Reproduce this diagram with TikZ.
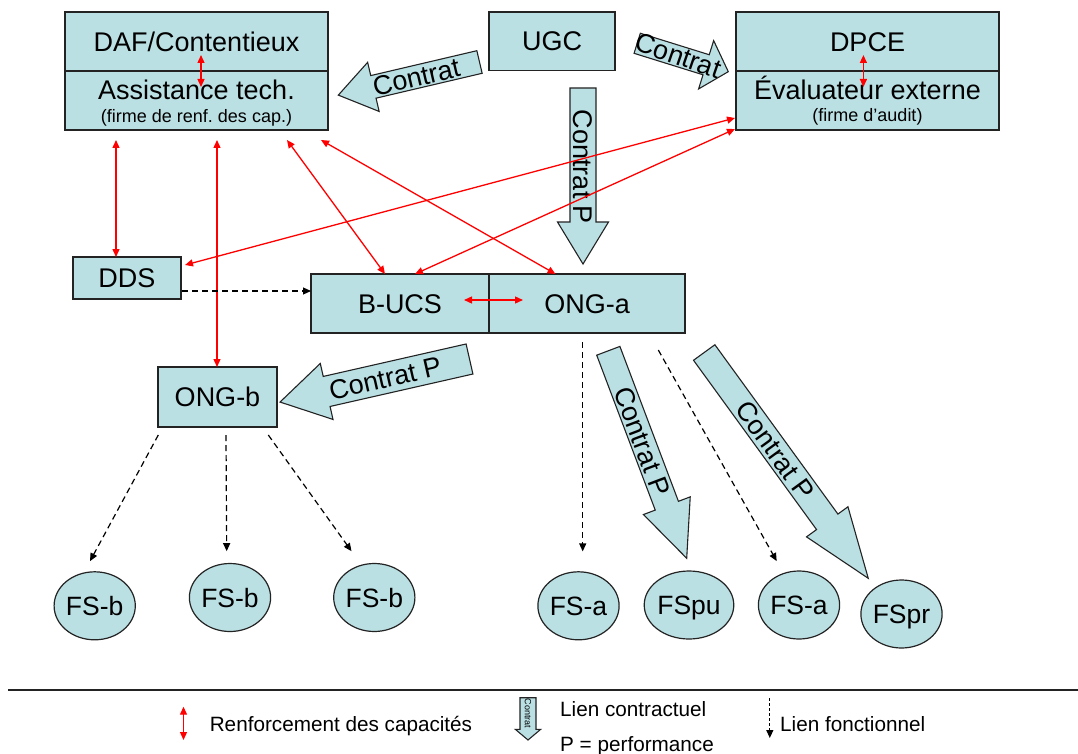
\documentclass[tikz,border=0pt]{standalone}
\usepackage{fontspec}
\setmainfont{Liberation Sans}
\usetikzlibrary{arrows.meta,calc,shapes.geometric}
\definecolor{boxfill}{RGB}{187,224,228}
\definecolor{edge}{RGB}{35,35,35}
\frenchspacing
\newcommand{\fntmain}{\fontsize{27}{32}\selectfont}
\newcommand{\fntsub}{\fontsize{18}{22}\selectfont}
\newcommand{\fntleg}{\fontsize{20.7}{24}\selectfont}
\newcommand{\fntell}{\fontsize{26.5}{30}\selectfont}
\newcommand{\fnttiny}{\fontsize{9}{10}\selectfont}
\tikzset{
  box/.style={draw=edge, fill=boxfill, line width=1.2pt, inner sep=0pt, outer sep=0pt,
    anchor=north west, font=\fntmain, text height=19.3pt, text depth=0pt},
  ell/.style={ellipse, draw=edge, fill=boxfill, line width=1.2pt, inner sep=0pt,
    minimum width=77pt, minimum height=68pt, font=\fntell, text height=19pt, text depth=0pt},
  lbl/.style={inner sep=0pt, font=\fntmain},
  sublbl/.style={inner sep=0pt, font=\fntsub},
  leg/.style={inner sep=0pt, font=\fntleg},
  btxt/.style={inner sep=0pt, font=\fntmain, text height=19.3pt, text depth=0pt},
  barrow/.style={draw=edge, fill=boxfill, line width=1.1pt, line join=miter},
  redarr/.style={draw=red, line width=1.3pt, {Triangle[length=8pt,width=7pt]}-{Triangle[length=8pt,width=7pt]}},
  funarr/.style={draw=black, line width=1.2pt, dash pattern=on 6pt off 4pt, -{Triangle[length=8pt,width=7pt]}},
}
\newcommand{\mkblockarrow}[7]{%
  \begin{scope}[shift={#1},rotate=#2]
    \draw[barrow] (0,-#4) -- ({#3-#6},-#4) -- ({#3-#6},-#5) -- (#3,0) -- ({#3-#6},#5) -- ({#3-#6},#4) -- (0,#4) -- cycle;
    #7
  \end{scope}}
\begin{document}
\begin{tikzpicture}[x=1pt,y=-1pt]
\useasboundingbox (0,0) rectangle (1078,754);
\fill[white] (0,0) rectangle (1078,754);

% top boxes
\node[box, minimum width=263pt, minimum height=59pt] (daf) at (65,12) {DAF/Contentieux};
\node[box, minimum width=263pt, minimum height=59pt] (at) at (65,71) {};
\node[lbl, anchor=base] (att) at (196.5,100) {Assistance tech.};
\node[sublbl, anchor=base] (atsub) at (196.5,123) {(firme de renf. des cap.)};

\node[box, minimum width=126pt, minimum height=58.5pt] (ugc) at (489,12) {UGC};

\node[box, minimum width=263pt, minimum height=59pt] (dpce) at (736,12) {DPCE};
\node[box, minimum width=263pt, minimum height=59pt] (ev) at (736,71) {};
\node[lbl, anchor=base] (evt) at (867.5,100) {Évaluateur externe};
\node[sublbl, anchor=base] (evsub) at (867.5,122) {(firme d’audit)};

% middle boxes
\node[box, minimum width=108pt, minimum height=42pt] (dds) at (73,257) {DDS};
\node[box, minimum width=178pt, minimum height=59pt] (bucs) at (311,274) {B-UCS};
\node[box, minimum width=196pt, minimum height=59pt] (onga) at (489,274) {ONG-a};
\node[box, minimum width=119pt, minimum height=60pt] (ongb) at (158,367) {ONG-b};

% ellipses
\node[ell] (fsb1) at (94.7,605.8) {FS-b};
\node[ell] (fsb2) at (230,597.5) {FS-b};
\node[ell] (fsb3) at (374.3,597.5) {FS-b};
\node[ell] (fsa1) at (578.5,605.8) {FS-a};
\node[ell] (fspu) at (689,605) {FSpu};
\node[ell] (fsa2) at (799,605) {FS-a};
\node[ell] (fspr) at (901.5,614) {FSpr};

% block arrows
\mkblockarrow{(479.5,62)}{193.2}{145}{11.6}{25.2}{36}{\node[btxt,rotate=13.2] (c1) at (65,0) {Contrat};}
\mkblockarrow{(637.2,43.3)}{-17.3}{95.4}{10.5}{25.3}{23.2}{\node[btxt,rotate=-19] (c2) at (43,-1) {Contrat};}
\mkblockarrow{(583,88)}{-90}{176}{13}{25.5}{42}{\node[btxt,rotate=-90] (c3) at (79,0) {Contrat P};}
\mkblockarrow{(469.5,359)}{192.8}{194.3}{15.4}{28.7}{47.8}{\node[btxt,rotate=12.8] (c4) at (86.5,0) {Contrat P};}
\mkblockarrow{(608.3,350.8)}{-69.3}{221.8}{12.4}{25}{56.2}{\node[btxt,rotate=-69.3] (c5) at (97,0) {Contrat P};}
\mkblockarrow{(704.2,352.5)}{-54}{279.1}{13.2}{25.6}{69.8}{\node[btxt,rotate=-54] (c6) at (121,0) {Contrat P};}

% red capacity arrows
\draw[redarr] ($(daf.south west)+(136,-16)$) -- ($(daf.south west)+(136,16)$);
\draw[redarr] ($(dpce.south west)+(127.4,-16)$) -- ($(dpce.south west)+(127.4,16)$);
\draw[redarr] ($(bucs.east)+(-25,-3.5)$) -- ($(onga.west)+(34,-3.5)$);
\draw[redarr] ($(at.south west)+(51,10)$) -- ($(dds.north west)+(43,0)$);
\draw[redarr] ($(at.south west)+(152,10)$) -- ($(ongb.north west)+(59,0)$);
\draw[redarr] ($(at.south west)+(222,10)$) -- ($(bucs.north west)+(74,0)$);
\draw[redarr] ($(at.south west)+(256,10)$) -- ($(onga.north west)+(66.5,0)$);
\draw[redarr] ($(ev.south west)+(-1,-12)$) -- ($(dds.north east)+(4,8)$);
\draw[redarr] ($(ev.south west)+(-1,-1)$) -- ($(bucs.north west)+(104,0)$);

% functional links
\coordinate (d1) at ($(dds.east)+(1,13)$);
\draw[funarr] (d1) -- (d1 -| bucs.west);
\draw[funarr] ($(onga.south west)+(93.7,9)$) -- ($(fsa1.north)+(4.2,-19.8)$);
\draw[funarr] ($(onga.south west)+(169.3,17)$) -- ($(fsa2.north)+(-22.3,-9.3)$);
\draw[funarr] ($(ongb.south west)+(0.3,8)$) -- ($(fsb1.north)+(-4.7,-10)$);
\draw[funarr] ($(ongb.south west)+(68,8)$) -- ($(fsb2.north)+(-3.3,-11.7)$);
\draw[funarr] ($(ongb.south west)+(110.3,8)$) -- ($(fsb3.north)+(-22.8,-11.7)$);

% legend
\coordinate (ll1) at (8,690);
\coordinate (ll2) at (1078,690);
\draw[draw=edge, line width=1.5pt] (ll1) -- (ll2);
\coordinate (lr1) at (183.5,706.7);
\coordinate (lr2) at (183.5,740);
\draw[redarr] (lr1) -- (lr2);
\node[leg, anchor=base west] (l1) at (209.6,731.7) {Renforcement des capacités};
\mkblockarrow{(528,697.7)}{-90}{42.3}{8}{12.7}{10.7}{\node[inner sep=0pt, font=\fnttiny, rotate=-90] (lc) at (16,0) {Contrat};}
\node[leg, anchor=base west] (l2) at (560,716.7) {Lien contractuel};
\node[leg, anchor=base west] (l3) at (560,751.7) {P = performance};
\coordinate (lf1) at (769.8,698);
\coordinate (lf2) at (769.8,738);
\draw[funarr, dash pattern=on 3pt off 2pt] (lf1) -- (lf2);
\node[leg, anchor=base west] (l4) at (780,731.7) {Lien fonctionnel};
\end{tikzpicture}
\end{document}
